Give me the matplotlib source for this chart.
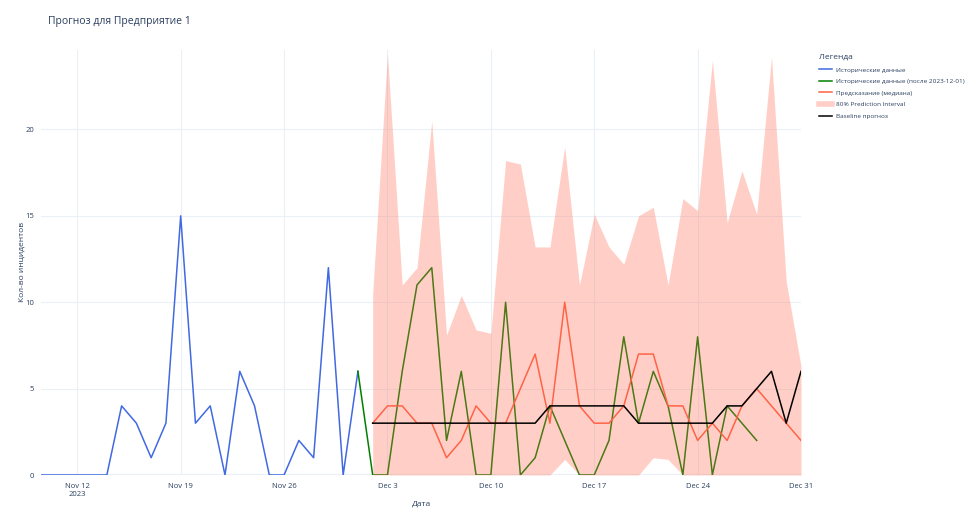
import numpy as np
import pandas as pd
import matplotlib
matplotlib.use("Agg")
import matplotlib.pyplot as plt
import matplotlib.dates as mdates
from matplotlib.lines import Line2D

plt.rcParams['font.family'] = ['Open Sans', 'DejaVu Sans']

# historical data (Nov 9 .. Dec 1)
hist_dates = pd.date_range('2023-11-09', '2023-12-01', freq='D')
hist_vals = [0, 0, 0, 0, 0, 0, 4, 3, 1, 3, 15, 3, 4, 0, 6, 4, 0, 0, 2, 1, 12, 0, 6]

# historical data after 2023-12-01 (Dec 1 .. Dec 28)
after_dates = pd.date_range('2023-12-01', '2023-12-28', freq='D')
after_vals = [6, 0, 0, 6, 11, 12, 2, 6, 0, 0, 10, 0, 1, 4, 2, 0, 0, 2, 8, 3, 6, 4, 0, 8, 0, 4, 3, 2]

# forecast (Dec 2 .. Dec 31)
fc_dates = pd.date_range('2023-12-02', '2023-12-31', freq='D')
median = [3, 4, 4, 3, 3, 1, 2, 4, 3, 3, 5, 7, 3, 10, 4, 3, 3, 4, 7, 7, 4, 4, 2, 3, 2, 4, 5, 4, 3, 2]
upper = [10.5, 24.4, 11, 12, 20.5, 8.1, 10.4, 8.4, 8.2, 18.2, 18.0, 13.2, 13.2, 19.0, 11,
         15.1, 13.2, 12.2, 15.0, 15.5, 11, 16.0, 15.3, 24.0, 14.6, 17.6, 15.1, 24.2, 11.2, 6.3]
lower = [0, 0, 0, 0, 0, 0, 0, 0, 0, 0, 0, 0, 0, 0.9, 0, 0, 0, 0, 0, 1.0, 0.9, 0, 0, 0, 0, 0, 0, 0, 0, 0]
baseline = [3, 3, 3, 3, 3, 3, 3, 3, 3, 3, 3, 3, 4, 4, 4, 4, 4, 4, 3, 3, 3, 3, 3, 3, 4, 4, 5, 6, 3, 6]

tick_dates = pd.date_range('2023-11-12', '2023-12-31', freq='7D')
tick_labels = ['Nov 12\n2023', 'Nov 19', 'Nov 26', 'Dec 3', 'Dec 10', 'Dec 17', 'Dec 24', 'Dec 31']

text_col = '#2a3f5f'
grid_col = '#EBF0F8'
band_col = (1.0, 99 / 255, 71 / 255, 0.3)
lw = 1.1

W, H = 974, 519
fig = plt.figure(figsize=(W / 100, H / 100), dpi=100)
ax = fig.add_axes([41 / W, 1 - 475 / H, (801 - 41) / W, (475 - 50) / H])

ax.plot(hist_dates, hist_vals, color='royalblue', lw=lw, zorder=2)
ax.plot(after_dates, after_vals, color='green', lw=lw, zorder=3)
ax.plot(fc_dates, median, color='tomato', lw=lw, zorder=4)
ax.fill_between(fc_dates, lower, upper, color=band_col, lw=0, zorder=5)
ax.plot(fc_dates, baseline, color='black', lw=lw, zorder=6)

ax.set_xlim(pd.Timestamp('2023-11-09 13:00'), pd.Timestamp('2023-12-31'))
ax.set_ylim(0, 24.6)
ax.set_xticks(tick_dates)
ax.set_xticklabels(tick_labels)
ax.set_yticks([0, 5, 10, 15, 20])
ax.tick_params(axis='both', length=0, labelsize=5.5, labelcolor=text_col)
ax.tick_params(axis='x', pad=6)
ax.tick_params(axis='y', pad=5)
ax.grid(True, color=grid_col, lw=0.8, zorder=0)
ax.axhline(0, color=grid_col, lw=1.6, zorder=1)
ax.set_axisbelow(True)
for s in ax.spines.values():
    s.set_visible(False)

fig.text(421 / W, 1 - 504 / H, 'Дата', fontsize=6, color=text_col, ha='center', va='center')
fig.text(22 / W, 1 - 262 / H, 'Кол-во инцидентов', fontsize=6, color=text_col,
         ha='center', va='center', rotation=90)
fig.text(48 / W, 1 - 22 / H, 'Прогноз для Предприятие 1', fontsize=7.5, color=text_col, va='center')

handles = [
    Line2D([], [], color='royalblue', lw=lw),
    Line2D([], [], color='green', lw=lw),
    Line2D([], [], color='tomato', lw=lw),
    Line2D([], [], color=band_col, lw=4),
    Line2D([], [], color='black', lw=lw),
]
labels = ['Исторические данные', 'Исторические данные (после 2023-12-01)',
          'Предсказание (медиана)', '80% Prediction Interval', 'Baseline прогноз']
leg = fig.legend(handles, labels, loc='upper left', bbox_to_anchor=(819 / W, 1 - 54 / H),
                 frameon=False, fontsize=4.6, title='Легенда', title_fontsize=6,
                 alignment='left', handlelength=2.0, handletextpad=0.6, labelspacing=0.95,
                 borderaxespad=0, borderpad=0)
for t in leg.get_texts():
    t.set_color(text_col)
leg.get_title().set_color(text_col)

fig.savefig('out.png', dpi=100)
